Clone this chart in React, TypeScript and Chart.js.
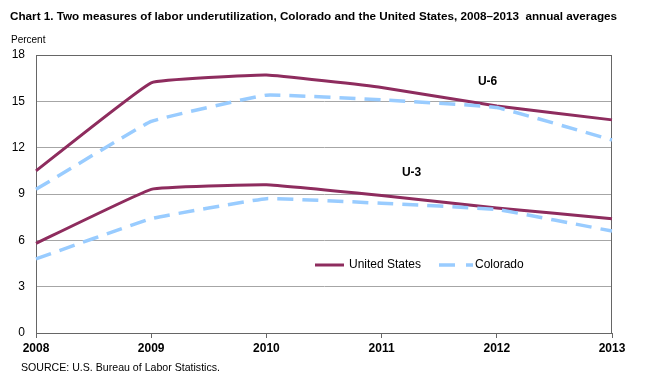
import React, { useEffect, useRef } from 'react';
import { Chart, registerables } from 'chart.js';

Chart.register(...registerables);

const years = ['2008', '2009', '2010', '2011', '2012', '2013'];
const usU6 = [10.5, 16.2, 16.7, 15.9, 14.7, 13.8];
const usU3 = [5.8, 9.3, 9.6, 8.9, 8.1, 7.4];
const coU6 = [9.3, 13.7, 15.4, 15.1, 14.6, 12.5];
const coU3 = [4.8, 7.4, 8.7, 8.4, 8.0, 6.6];
const yTicks = [0, 3, 6, 9, 12, 15, 18];
const seriesNames = ['United States', 'Colorado'];
const titleText = 'Chart 1. Two measures of labor underutilization, Colorado and the United States, 2008\u20132013  annual averages';
const axisTitle = 'Percent';
const sourceText = 'SOURCE: U.S. Bureau of Labor Statistics.';
const annotations = [
  { text: 'U-6', x: 3.92, y: 16.25 },
  { text: 'U-3', x: 3.26, y: 10.4 },
];

const US_COLOR = '#8E2C5E';
const CO_COLOR = '#99CCFF';
const FONT = "'Liberation Sans', Arial, sans-serif";

export default function App() {
  const ref = useRef<HTMLCanvasElement>(null);

  useEffect(() => {
    document.body.style.margin = '0';
    const canvas = ref.current!;

    const deco = {
      id: 'deco',
      beforeDatasetsDraw(chart: any) {
        const c = chart.ctx;
        const a = chart.chartArea;
        c.save();
        c.strokeStyle = '#666';
        c.lineWidth = 1;
        c.strokeRect(Math.round(a.left) + 0.5, Math.round(a.top) + 0.5, Math.round(a.right - a.left) - 1, Math.round(a.bottom - a.top));
        c.restore();
      },
      afterDraw(chart: any) {
        const c = chart.ctx;
        const a = chart.chartArea;
        const sx = chart.scales.x;
        const sy = chart.scales.y;
        c.save();
        c.fillStyle = '#000';
        c.textBaseline = 'middle';
        c.textAlign = 'left';
        c.font = `bold 11.7px ${FONT}`;
        c.fillText(titleText, 10, 17);
        c.font = `10px ${FONT}`;
        c.fillText(axisTitle, 11, 40);
        c.font = `10.6px ${FONT}`;
        c.fillText(sourceText, 21, 368);

        c.font = `bold 12px ${FONT}`;
        c.textAlign = 'center';
        annotations.forEach((an) => {
          c.fillText(an.text, sx.getPixelForValue(an.x), sy.getPixelForValue(an.y));
        });

        // legend
        const ly = a.top + 210;
        const lx = a.left + 279;
        c.lineWidth = 3;
        c.strokeStyle = US_COLOR;
        c.beginPath();
        c.moveTo(lx, ly);
        c.lineTo(lx + 29, ly);
        c.stroke();
        c.font = `12px ${FONT}`;
        c.textAlign = 'left';
        c.fillText(seriesNames[0], lx + 34, ly);
        const cx = lx + 124;
        c.strokeStyle = CO_COLOR;
        c.lineWidth = 3.5;
        c.beginPath();
        c.moveTo(cx, ly);
        c.lineTo(cx + 16, ly);
        c.moveTo(cx + 27, ly);
        c.lineTo(cx + 34, ly);
        c.stroke();
        c.fillText(seriesNames[1], cx + 36, ly);
        c.restore();
      },
    };

    const common = { pointRadius: 0, pointHoverRadius: 0, fill: false, tension: 0.08 };

    const chart = new Chart(canvas, {
      type: 'line',
      data: {
        labels: years,
        datasets: [
          { ...common, label: seriesNames[1], data: coU6, borderColor: CO_COLOR, borderWidth: 3.5, borderDash: [16, 9], order: 0 },
          { ...common, label: seriesNames[1], data: coU3, borderColor: CO_COLOR, borderWidth: 3.5, borderDash: [16, 9], order: 0 },
          { ...common, label: seriesNames[0], data: usU6, borderColor: US_COLOR, borderWidth: 3, order: 1 },
          { ...common, label: seriesNames[0], data: usU3, borderColor: US_COLOR, borderWidth: 3, order: 1 },
        ],
      },
      options: {
        responsive: false,
        animation: false,
        devicePixelRatio: 1,
        layout: { padding: { top: 55, left: 0, right: 38, bottom: 0 } },
        plugins: { legend: { display: false }, tooltip: { enabled: false }, title: { display: false } },
        scales: {
          x: {
            type: 'category',
            offset: false,
            afterFit: (s: any) => { s.height = 50; },
            grid: { drawOnChartArea: false, drawTicks: true, tickLength: 5, color: '#666' },
            border: { display: true, color: '#666' },
            ticks: { autoSkip: false, maxRotation: 0, padding: 3, color: '#000', font: { family: FONT, size: 12, weight: 'bold' } },
          },
          y: {
            min: 0,
            max: 18,
            afterFit: (s: any) => { s.width = 36; },
            afterBuildTicks: (s: any) => { s.ticks = yTicks.map((v) => ({ value: v })); },
            grid: { drawTicks: false, color: (ctx: any) => (ctx.tick && (ctx.tick.value === 0 || ctx.tick.value === 18) ? '#666' : '#a6a6a6') },
            border: { display: true, color: '#666' },
            ticks: { padding: 11, color: '#000', font: { family: FONT, size: 12 } },
          },
        },
      },
      plugins: [deco],
    });
    return () => chart.destroy();
  }, []);

  return (
    <div style={{ width: 650, height: 383, background: '#fff' }}>
      <canvas ref={ref} width={650} height={383} style={{ display: 'block' }} />
    </div>
  );
}
